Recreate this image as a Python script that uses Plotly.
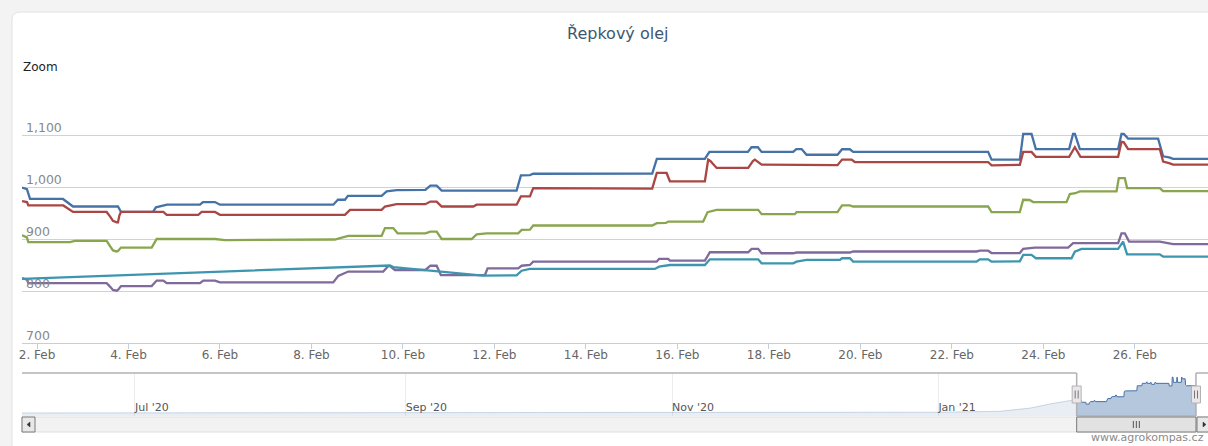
import pandas as pd
import plotly.graph_objects as go

# ---------------- data (day of Feb 2021, fractional; value) ----------------
blue_days = [1.672, 1.78, 1.847, 2.568, 2.787, 3.77, 3.836, 4.536, 4.60, 4.842, 5.563, 5.628, 5.891, 6.0,
             8.477, 8.579, 8.732, 8.798, 9.534, 9.644, 9.862, 10.49, 10.60, 10.737, 10.846, 12.485, 12.579,
             12.776, 12.848, 15.45, 15.55, 16.60, 16.70, 17.541, 17.62, 17.759, 17.841, 18.531, 18.60, 18.715,
             18.824, 19.50, 19.60, 19.77, 19.843, 22.793, 22.868, 23.486, 23.56, 23.742, 23.836, 24.564, 24.65,
             24.69, 24.798, 25.635, 25.709, 25.76, 25.853, 26.509, 26.619, 26.75, 26.837, 29.0]
blue_vals = [999, 996, 977, 977, 962.5, 962.5, 952, 952, 961, 966, 966, 971, 971, 966,
             966, 975.5, 975.5, 983, 983, 991.5, 994, 994.5, 1002.5, 1002.5, 993, 993, 1022.4,
             1023, 1025.5, 1026, 1054, 1054, 1067.5, 1067.5, 1076.4, 1076.4, 1067.5, 1067.5, 1073, 1073,
             1062, 1062, 1072.6, 1072.6, 1067.5, 1067.5, 1052.7, 1052.7, 1102, 1102, 1073, 1073, 1102,
             1102, 1073, 1073, 1102, 1102, 1093, 1093, 1059, 1057, 1054, 1054]

red_days = [1.672, 1.78, 1.81, 2.575, 2.787, 3.523, 3.60, 3.66, 3.742, 3.77, 3.80, 3.836, 4.761, 4.835,
            5.526, 5.60, 5.891, 6.0, 8.732, 8.842, 9.534, 9.607, 9.862, 10.49, 10.60, 10.737, 10.846,
            11.537, 11.611, 12.485, 12.579, 12.776, 12.848, 15.45, 15.55, 15.764, 15.836, 16.601, 16.673,
            16.72, 16.857, 17.548, 17.65, 17.694, 17.841, 19.50, 19.60, 19.807, 19.88, 22.793, 22.868,
            23.486, 23.56, 23.742, 23.836, 24.564, 24.689, 24.813, 25.635, 25.709, 25.76, 25.853, 26.546,
            26.619, 26.75, 26.837, 29.0]
red_vals = [973, 971, 964.5, 964.5, 952, 952, 943, 935, 932, 932, 945, 952, 952, 946.5,
            946.5, 952, 952, 946.5, 946.5, 956, 956, 962.5, 967, 967, 972, 972, 962.5,
            962.5, 966, 966, 982, 982, 998, 997, 1027, 1027, 1011, 1011, 1052.7,
            1050, 1036.7, 1036.7, 1050, 1052.7, 1043, 1042, 1052.7, 1052.7, 1048, 1048, 1041.7,
            1042.5, 1067.5, 1067.5, 1058, 1058, 1076.4, 1058, 1058, 1087, 1086, 1073, 1073,
            1049, 1046, 1043, 1043]

green_days = [1.672, 1.78, 1.81, 2.72, 2.83, 3.523, 3.60, 3.661, 3.742, 3.77, 3.836, 4.507, 4.616, 5.891,
              6.109, 8.514, 8.623, 8.804, 9.534, 9.607, 9.788, 9.884, 10.49, 10.60, 10.737, 10.846, 11.502,
              11.611, 11.829, 12.52, 12.595, 12.776, 12.848, 15.45, 15.55, 15.75, 15.799, 16.564, 16.66,
              16.857, 17.766, 17.841, 18.568, 18.605, 19.50, 19.60, 19.77, 19.843, 22.793, 22.868, 23.486,
              23.56, 23.70, 23.777, 24.507, 24.579, 24.70, 24.798, 25.60, 25.65, 25.781, 25.831, 26.546,
              26.619, 29.0]
green_vals = [907, 903, 894, 894, 896.4, 896.4, 886, 878, 876, 877, 883.5, 883.5, 900, 900,
              898, 899, 901.5, 906, 906, 921, 921, 911, 911, 914, 914, 900, 900,
              909, 911, 911, 917.6, 918, 926, 926, 930.5, 931, 933.6, 933.6, 951.7,
              956, 956, 947.8, 947.8, 951.7, 951.7, 964.5, 964.5, 962.5, 962.5, 951.7, 951.7,
              975.5, 975, 971, 971, 986.5, 988, 991.5, 991.5, 1017, 1017, 998, 998,
              992, 992]

purple_days = [1.672, 1.78, 1.81, 3.523, 3.60, 3.661, 3.742, 3.78, 3.836, 4.507, 4.616, 4.761, 4.835,
               5.563, 5.635, 5.891, 6.0, 8.477, 8.586, 8.804, 9.569, 9.679, 9.716, 9.825, 10.49, 10.60,
               10.737, 10.83, 11.792, 11.851, 12.52, 12.595, 12.776, 12.848, 15.545, 15.60, 15.799, 15.836,
               16.601, 16.71, 17.548, 17.622, 17.766, 17.841, 18.531, 18.605, 19.77, 19.843, 22.54, 22.612,
               22.793, 22.868, 23.486, 23.56, 23.814, 24.542, 24.651, 25.635, 25.709, 25.781, 25.875,
               26.546, 26.837, 29.0]
purple_vals = [825, 822, 815, 815, 808, 802, 800.5, 803, 809.5, 809.5, 820, 820, 815,
               815, 820, 820, 816.6, 816.6, 829, 837.4, 837.4, 848, 848, 840.4, 840.4, 848.6,
               848.6, 830.7, 830.7, 843.6, 843.6, 848.6, 850, 856.4, 856.4, 861.6, 861.6, 858.3,
               858.3, 874.5, 874.5, 881, 881, 872.6, 872.6, 874, 874, 876, 876, 877.5,
               877.5, 873, 873, 881, 883.5, 883.5, 892, 892, 911, 911, 895,
               895, 890, 890]

cyan_days = [1.672, 9.644, 9.716, 9.79, 11.749, 12.485, 12.595, 12.776, 15.508, 15.60, 15.836, 16.601,
             16.71, 17.766, 17.841, 18.531, 18.605, 18.824, 19.552, 19.60, 19.77, 19.843, 22.54, 22.612,
             22.793, 22.868, 23.486, 23.56, 23.742, 23.836, 24.616, 24.689, 24.835, 25.635, 25.744,
             25.831, 26.546, 26.619, 29.0]
cyan_vals = [823.5, 847.5, 849, 846, 829.5, 830, 839, 842.4, 842.4, 846.8, 850, 850,
             861, 861, 853.3, 853.3, 856.4, 859.7, 859.7, 863, 863, 856.4, 856.4, 861,
             861, 856.4, 857, 869.3, 869.3, 863, 863, 875.7, 881, 881, 895,
             870.6, 870.6, 866, 866]

# navigator history (first series, before the zoomed window), estimated from the navigator
nav_hist_dates = ["2020-06-01", "2020-07-01", "2020-08-01", "2020-09-01", "2020-10-01", "2020-11-01",
                  "2020-12-01", "2021-01-01", "2021-01-15", "2021-01-22", "2021-01-27", "2021-02-01"]
nav_hist_vals = [903, 903, 904, 904, 904, 905, 906, 907, 912, 930, 955, 975]

x_tick_days = [2, 4, 6, 8, 10, 12, 14, 16, 18, 20, 22, 24, 26, 28]
x_tick_text = ["2. Feb", "4. Feb", "6. Feb", "8. Feb", "10. Feb", "12. Feb", "14. Feb", "16. Feb",
               "18. Feb", "20. Feb", "22. Feb", "24. Feb", "26. Feb", "28. Feb"]
y_tick_vals = [700, 800, 900, 1000, 1100, 1200]
y_label_vals = [700, 800, 900, 1000, 1100]
y_label_text = ["700", "800", "900", "1,000", "1,100"]
nav_tick_dates = ["2020-07-01", "2020-09-01", "2020-11-01", "2021-01-01", "2021-03-01"]
nav_tick_text = ["Jul '20", "Sep '20", "Nov '20", "Jan '21", "Mar '21"]

colors = {"blue": "#4572A7", "red": "#AA4643", "green": "#89A54E", "purple": "#80699B", "cyan": "#3D96AE"}

base = pd.Timestamp("2021-02-01")


def to_time(days):
    return [base + pd.Timedelta(days=d - 1) for d in days]


view_end_day = 27.6
sel_start = to_time([blue_days[0]])[0]
sel_end = to_time([blue_days[-1]])[0]
sel_mid = sel_start + (sel_end - sel_start) / 2
nav_range = ["2020-06-05 03:00", "2021-03-03 18:00"]

fig = go.Figure()

series = [("blue", blue_days, blue_vals), ("red", red_days, red_vals), ("green", green_days, green_vals),
          ("purple", purple_days, purple_vals), ("cyan", cyan_days, cyan_vals)]
for name, d, v in series:
    fig.add_trace(go.Scatter(x=to_time(d), y=v, mode="lines", name=name,
                             line=dict(color=colors[name], width=2.3), showlegend=False,
                             xaxis="x", yaxis="y"))

# navigator: history (masked) and selected window
hist_x = [pd.Timestamp(s) for s in nav_hist_dates] + [sel_start]
hist_y = nav_hist_vals + [blue_vals[0]]
fig.add_trace(go.Scatter(x=hist_x, y=hist_y, mode="lines", fill="tozeroy",
                         fillcolor="rgba(69,114,167,0.12)", line=dict(color="rgba(69,114,167,0.25)", width=1),
                         showlegend=False, xaxis="x2", yaxis="y2"))
fig.add_trace(go.Scatter(x=to_time(blue_days), y=blue_vals, mode="lines", fill="tozeroy",
                         fillcolor="rgba(69,114,167,0.4)", line=dict(color="#4572A7", width=1),
                         showlegend=False, xaxis="x2", yaxis="y2"))

# ---------------- layout geometry ----------------
W, H = 1208, 446
ML, MR, MT, MB = 22, 0, 83, 14
PW, PH = W - ML - MR, H - MT - MB


def px_x(px):
    return (px - ML) / PW


def px_y(py):
    return (H - MB - py) / PH


main_dom = [px_y(343), 1.0]
nav_top, nav_bot = px_y(373), px_y(416)
sb_top, sb_bot = px_y(417), px_y(432)

font = "DejaVu Sans, Verdana, sans-serif"

shapes = []
# card
cx0, cy0 = px_x(12), px_y(12)
cx1, cy1 = px_x(1240), px_y(470)
rx, ry = 8 / PW, 8 / PH
shapes.append(dict(type="path", xref="paper", yref="paper", layer="below",
                   path=f"M {cx0+rx},{cy0} L {cx1},{cy0} L {cx1},{cy1} L {cx0},{cy1} L {cx0},{cy0-ry} Q {cx0},{cy0} {cx0+rx},{cy0} Z",
                   fillcolor="white", line=dict(color="#e2e2e2", width=1)))

oc = "#b2b1b6"
# navigator outline
shapes += [
    dict(type="line", xref="x2", yref="paper", x0=nav_range[0], x1=sel_start, y0=nav_top, y1=nav_top,
         line=dict(color=oc, width=1.5)),
    dict(type="line", xref="x2", yref="paper", x0=sel_start, x1=sel_start, y0=nav_bot, y1=nav_top,
         line=dict(color=oc, width=1.5)),
    dict(type="line", xref="x2", yref="paper", x0=sel_start, x1=sel_end, y0=nav_bot, y1=nav_bot,
         line=dict(color=oc, width=1.5)),
    dict(type="line", xref="x2", yref="paper", x0=sel_end, x1=sel_end, y0=nav_bot, y1=nav_top,
         line=dict(color=oc, width=1.5)),
    dict(type="line", xref="x2", yref="paper", x0=sel_end, x1=nav_range[1], y0=nav_top, y1=nav_top,
         line=dict(color=oc, width=1.5)),
]
# handles
hy = px_y(394.5)
for anchor in (sel_start, sel_end):
    shapes.append(dict(type="rect", xref="x2", yref="paper", xsizemode="pixel", ysizemode="pixel",
                       xanchor=anchor, yanchor=hy, x0=-4.5, x1=4.5, y0=-8.5, y1=8.5,
                       fillcolor="#ebe7e8", line=dict(color=oc, width=1)))
    for off in (-1.5, 1.5):
        shapes.append(dict(type="line", xref="x2", yref="paper", xsizemode="pixel", ysizemode="pixel",
                           xanchor=anchor, yanchor=hy, x0=off, x1=off, y0=-4, y1=4,
                           line=dict(color="#777", width=1)))

# scrollbar
shapes.append(dict(type="rect", xref="paper", yref="paper", x0=0, x1=1.05, y0=sb_bot, y1=sb_top,
                   fillcolor="#f2f2f2", line=dict(color="#e0e0e0", width=1)))
shapes.append(dict(type="rect", xref="paper", yref="paper", x0=0, x1=px_x(35), y0=sb_bot, y1=sb_top,
                   fillcolor="#e8e8e8", line=dict(color="#7a7a7a", width=1)))
shapes.append(dict(type="path", xref="paper", yref="paper", xsizemode="pixel", ysizemode="pixel",
                   xanchor=0, yanchor=px_y(424.5), path="M 5,0 L 8,2.5 L 8,-2.5 Z",
                   fillcolor="#333", line=dict(color="#333", width=0.5)))
shapes.append(dict(type="rect", xref="x2", yref="paper", x0=sel_start, x1=sel_end, y0=sb_bot, y1=sb_top,
                   fillcolor="#e2e2e2", line=dict(color="#7a7a7a", width=1)))
for off in (-3, 0, 3):
    shapes.append(dict(type="line", xref="x2", yref="paper", xsizemode="pixel", ysizemode="pixel",
                       xanchor=sel_mid, yanchor=px_y(424.5), x0=off, x1=off, y0=-3.5, y1=3.5,
                       line=dict(color="#555", width=1)))
shapes.append(dict(type="rect", xref="x2", yref="paper", xsizemode="pixel", xanchor=sel_end,
                   x0=1, x1=16, y0=sb_bot, y1=sb_top, fillcolor="#e8e8e8", line=dict(color="#7a7a7a", width=1)))
shapes.append(dict(type="path", xref="x2", yref="paper", xsizemode="pixel", ysizemode="pixel",
                   xanchor=sel_end, yanchor=px_y(424.5), path="M 10,0 L 7,2.5 L 7,-2.5 Z",
                   fillcolor="#333", line=dict(color="#333", width=0.5)))

annotations = [
    dict(text="Řepkový olej", xref="paper", yref="paper", x=px_x(617), y=px_y(33), xanchor="center",
         yanchor="middle", showarrow=False, font=dict(family=font, size=16, color="#3E576F")),
    dict(text="Zoom", xref="paper", yref="paper", x=px_x(21), y=px_y(67), xanchor="left",
         yanchor="middle", showarrow=False, font=dict(family=font, size=12, color="#222")),
    dict(text="www.agrokompas.cz", xref="paper", yref="paper", x=px_x(1089), y=px_y(437), xanchor="left",
         yanchor="middle", showarrow=False, font=dict(family=font, size=11, color="#8a8a8a")),
]
# y-axis labels sitting above their grid lines, inside the plot (Highstock style)
for v, t in zip(y_label_vals, y_label_text):
    annotations.append(dict(text=t, xref="paper", yref="y", x=px_x(24), y=v, xanchor="left",
                            yanchor="bottom", yshift=-2, showarrow=False,
                            font=dict(family=font, size=12.5, color="#888")))

fig.update_layout(
    width=W, height=H,
    margin=dict(l=ML, r=MR, t=MT, b=MB, pad=0),
    paper_bgcolor="#f3f3f3", plot_bgcolor="rgba(0,0,0,0)",
    font=dict(family=font, size=12, color="#666"),
    showlegend=False,
    hovermode=False,
    xaxis=dict(domain=[0, 1], anchor="y", type="date",
               range=[sel_start, to_time([view_end_day])[0]],
               tickvals=to_time(x_tick_days), ticktext=x_tick_text,
               ticks="outside", ticklen=5, tickcolor="#C0D0E0", tickwidth=1, ticklabelstandoff=-4,
               showline=True, linecolor="#C0D0E0", linewidth=1, showgrid=False, zeroline=False,
               tickfont=dict(family=font, size=12, color="#666")),
    yaxis=dict(domain=main_dom, anchor="x", range=[700, 1200],
               tickvals=y_tick_vals, showticklabels=False,
               showgrid=True, gridcolor="#d2d2d2", gridwidth=1, zeroline=False, showline=False,
               ticks=""),
    xaxis2=dict(domain=[0, 1], anchor="y2", type="date", range=nav_range,
                tickvals=nav_tick_dates, ticktext=nav_tick_text, ticklabelposition="inside right",
                ticklabelstandoff=-3,
                showgrid=True, gridcolor="#ececec", gridwidth=1, ticks="", showline=False, zeroline=False,
                tickfont=dict(family=font, size=11, color="#555")),
    yaxis2=dict(domain=[nav_bot, nav_top], anchor="x2", range=[886, 1125], showgrid=False,
                showticklabels=False, zeroline=False, showline=False, ticks=""),
    shapes=shapes,
    annotations=annotations,
)

fig.write_html("out.html", config={"displayModeBar": False},
               post_script="document.body.style.margin='0px';document.body.style.overflow='hidden';")
